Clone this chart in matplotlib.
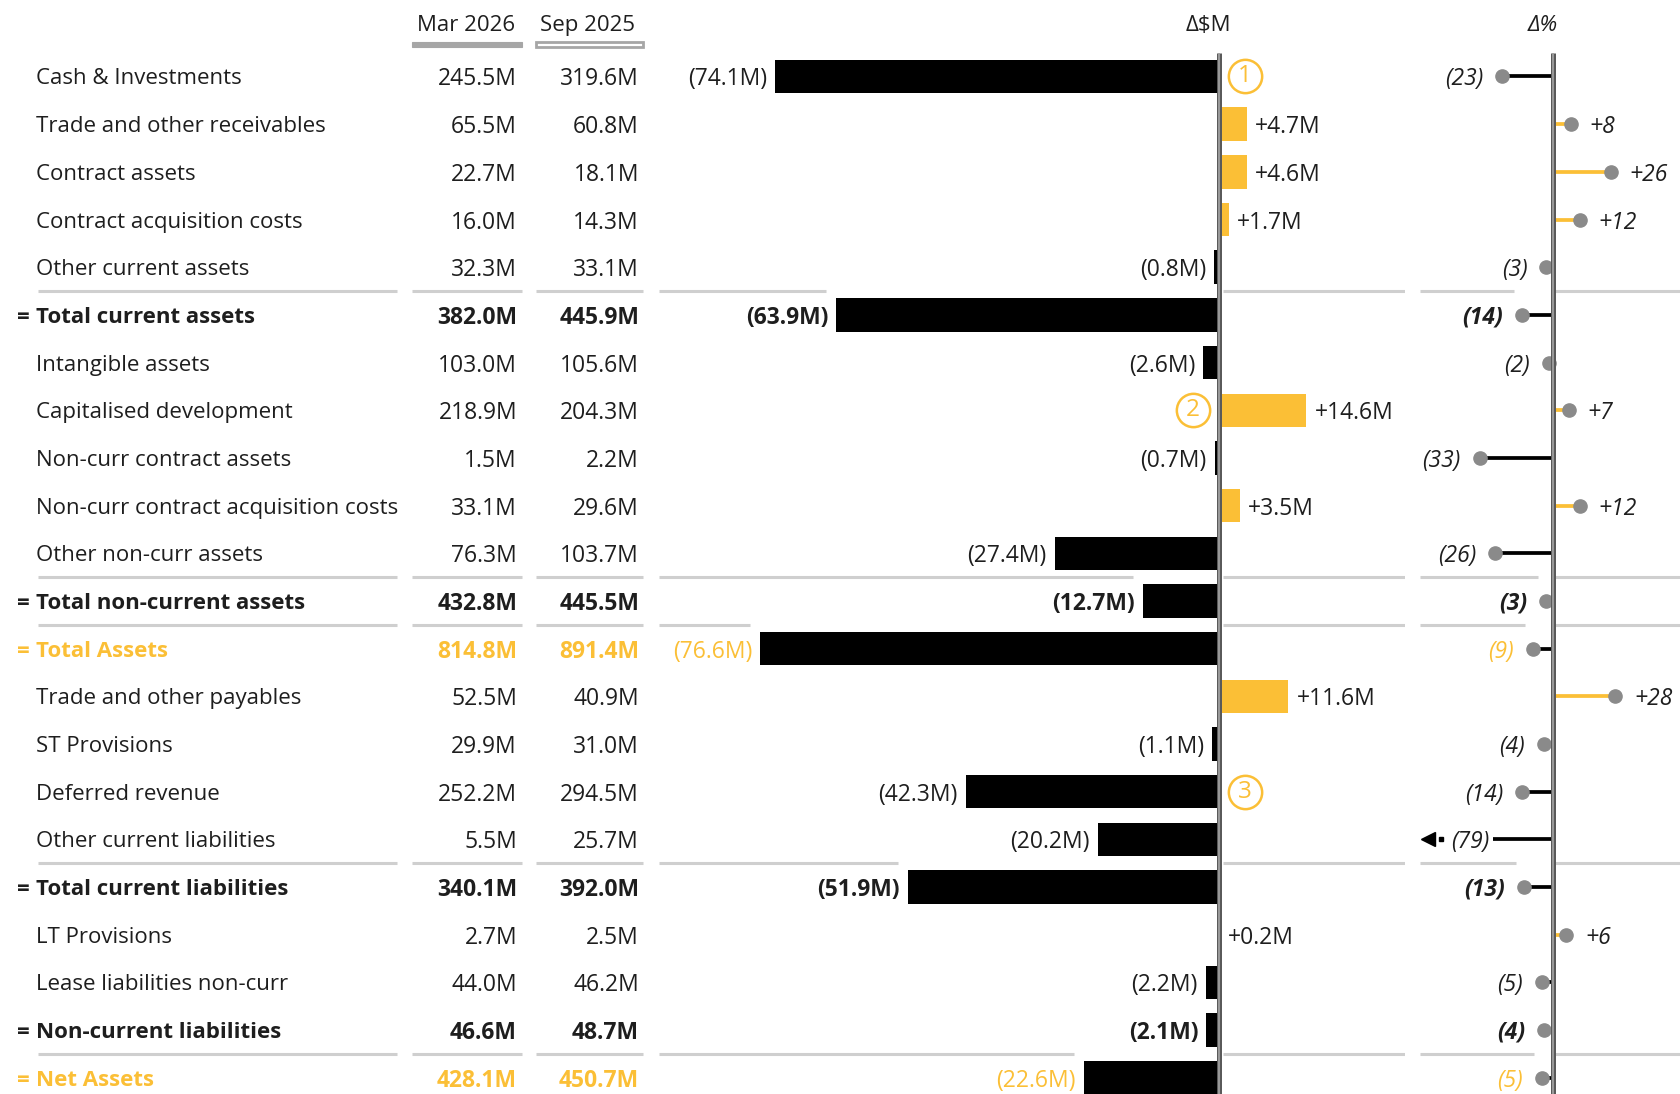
import matplotlib
matplotlib.use("Agg")
import matplotlib.pyplot as plt
from matplotlib.patches import Rectangle
from matplotlib.transforms import offset_copy

plt.rcParams["font.family"] = ["Open Sans", "DejaVu Sans"]

# ---- data -------------------------------------------------------------
categories = [
    "Cash & Investments", "Trade and other receivables", "Contract assets",
    "Contract acquisition costs", "Other current assets", "Total current assets",
    "Intangible assets", "Capitalised development", "Non-curr contract assets",
    "Non-curr contract acquisition costs", "Other non-curr assets",
    "Total non-current assets", "Total Assets", "Trade and other payables",
    "ST Provisions", "Deferred revenue", "Other current liabilities",
    "Total current liabilities", "LT Provisions", "Lease liabilities non-curr",
    "Non-current liabilities", "Net Assets",
]
row_kind = [
    "item", "item", "item", "item", "item", "total",
    "item", "item", "item", "item", "item", "total",
    "grand", "item", "item", "item", "item", "total",
    "item", "item", "total", "grand",
]
mar_2026 = [245.5, 65.5, 22.7, 16.0, 32.3, 382.0, 103.0, 218.9, 1.5, 33.1, 76.3,
            432.8, 814.8, 52.5, 29.9, 252.2, 5.5, 340.1, 2.7, 44.0, 46.6, 428.1]
sep_2025 = [319.6, 60.8, 18.1, 14.3, 33.1, 445.9, 105.6, 204.3, 2.2, 29.6, 103.7,
            445.5, 891.4, 40.9, 31.0, 294.5, 25.7, 392.0, 2.5, 46.2, 48.7, 450.7]
delta_musd = [-74.1, 4.7, 4.6, 1.7, -0.8, -63.9, -2.6, 14.6, -0.7, 3.5, -27.4,
              -12.7, -76.6, 11.6, -1.1, -42.3, -20.2, -51.9, 0.2, -2.2, -2.1, -22.6]
delta_pct = [-23, 8, 26, 12, -3, -14, -2, 7, -33, 12, -26,
             -3, -9, 28, -4, -14, -79, -13, 6, -5, -4, -5]
column_headers = ["Mar 2026", "Sep 2025", "Δ$M", "Δ%"]
callouts = {0: "1", 7: "2", 15: "3"}
separators_above = [5, 11, 12, 17, 21]

# ---- style ------------------------------------------------------------
W, H = 1680, 1094
TXT = "#1e1e1e"
GOLD = "#FBBF36"
NEG = "#000000"
GRID = "#cfcfcf"
DOT = "#8a8a8a"
FS = 16        # row labels and headers
FS_NUM = 16.5  # numbers

n = len(categories)
row_px = 47.67
first_row_px = 76.5
y_top = -first_row_px / row_px
y_bot = (n - 1) + (H - (first_row_px + (n - 1) * row_px)) / row_px

fig = plt.figure(figsize=(W / 100, H / 100), dpi=100)

# table area in pixel-wide x coordinates
ax_t = fig.add_axes([0, 0, 1, 1])
ax_t.set_xlim(0, W)
ax_t.set_ylim(y_bot, y_top)
ax_t.axis("off")

# delta $M panel
d_left, d_axis, d_right = 659, 1219, 1405
px_per_m = 5.99
ax_d = fig.add_axes([d_left / W, 0, (d_right - d_left) / W, 1])
ax_d.set_xlim(-(d_axis - d_left) / px_per_m, (d_right - d_axis) / px_per_m)
ax_d.set_ylim(y_bot, y_top)
ax_d.axis("off")

# delta % panel
p_left, p_axis, p_right = 1420, 1553, 1680
px_per_pct = 2.22
ax_p = fig.add_axes([p_left / W, 0, (p_right - p_left) / W, 1])
ax_p.set_xlim(-(p_axis - p_left) / px_per_pct, (p_right - p_axis) / px_per_pct)
ax_p.set_ylim(y_bot, y_top)
ax_p.axis("off")

VA = "center_baseline"


def color_of(kind):
    return GOLD if kind == "grand" else TXT


def weight_of(kind):
    return "bold" if kind in ("total", "grand") else "normal"


def fmt_m(v):
    return f"+{v:.1f}M" if v >= 0 else f"({-v:.1f}M)"


def fmt_p(v):
    return f"+{v:d}" if v >= 0 else f"({-v:d})"


# ---- headers ----------------------------------------------------------
hdr_y = -1.12
ax_t.text(466, hdr_y, column_headers[0], ha="center", va=VA, fontsize=FS, color=TXT)
ax_t.text(587, hdr_y, column_headers[1], ha="center", va=VA, fontsize=FS, color=TXT)
ax_t.text(1208, hdr_y, column_headers[2], ha="center", va=VA, fontsize=FS, color=TXT)
ax_t.text(1543, hdr_y, column_headers[3], ha="center", va=VA, fontsize=FS,
          color=TXT, style="italic")
ax_t.add_patch(Rectangle((412, -0.72), 110, 0.11, fc="#a6a6a6", ec="#a6a6a6", lw=0.8))
ax_t.add_patch(Rectangle((536, -0.72), 107, 0.11, fc="white", ec="#a6a6a6", lw=2.0))

# ---- table columns ----------------------------------------------------
for i, (name, kind) in enumerate(zip(categories, row_kind)):
    c, w = color_of(kind), weight_of(kind)
    if kind != "item":
        ax_t.text(17, i, "=", ha="left", va=VA, fontsize=FS, color=c, fontweight=w)
    ax_t.text(36, i, name, ha="left", va=VA, fontsize=FS, color=c, fontweight=w)
    ax_t.text(517, i, f"{mar_2026[i]:.1f}M", ha="right", va=VA, fontsize=FS_NUM,
              color=c, fontweight=w)
    ax_t.text(639, i, f"{sep_2025[i]:.1f}M", ha="right", va=VA, fontsize=FS_NUM,
              color=c, fontweight=w)

# separator rules above subtotal rows
for r in separators_above:
    ys = r - 0.5
    for x0, x1 in [(38, 397), (412, 522), (536, 643)]:
        ax_t.plot([x0, x1], [ys, ys], color=GRID, lw=2.2, solid_capstyle="butt")
    lo_d, hi_d = ax_d.get_xlim()
    gap_d = 10 / px_per_m
    ax_d.plot([lo_d, min(0, delta_musd[r]) - gap_d], [ys, ys], color=GRID, lw=2.2,
              solid_capstyle="butt")
    ax_d.plot([0.6, hi_d], [ys, ys], color=GRID, lw=2.2, solid_capstyle="butt")
    lo_p, hi_p = ax_p.get_xlim()
    gap_p = 8 / px_per_pct
    ax_p.plot([lo_p, min(0, delta_pct[r]) - gap_p], [ys, ys], color=GRID, lw=2.2,
              solid_capstyle="butt")
    ax_p.plot([0.6, hi_p], [ys, ys], color=GRID, lw=2.2, solid_capstyle="butt")

# ---- delta $M bars ----------------------------------------------------
bar_colors = [GOLD if v >= 0 else NEG for v in delta_musd]
ax_d.barh(range(n), delta_musd, height=0.7, color=bar_colors, zorder=2)
lab_off = 8 * 0.72
for i, v in enumerate(delta_musd):
    kind = row_kind[i]
    ax_d.annotate(fmt_m(v), xy=(v, i), xytext=(lab_off if v >= 0 else -lab_off, 0),
                  textcoords="offset points", ha="left" if v >= 0 else "right",
                  va=VA, fontsize=FS_NUM, color=color_of(kind),
                  fontweight="bold" if kind == "total" else "normal")

for r, num in callouts.items():
    side = 1 if delta_musd[r] < 0 else -1
    tr = offset_copy(ax_d.transData, fig=fig, x=side * 26, y=0, units="dots")
    ax_d.plot(0, r, marker="o", ms=24, mfc="white", mec=GOLD, mew=1.8, transform=tr,
              zorder=5)
    ax_d.text(0, r, num, transform=tr, ha="center", va="center", fontsize=FS + 1.5,
              color=GOLD, zorder=6)

# ---- delta % lollipops ------------------------------------------------
p_lo = ax_p.get_xlim()[0]
clip = p_lo + 2.5
for i, v in enumerate(delta_pct):
    kind = row_kind[i]
    col = GOLD if v >= 0 else NEG
    style = dict(fontsize=FS_NUM, color=color_of(kind), style="italic",
                 fontweight="bold" if kind == "total" else "normal")
    if v < clip:
        # value beyond the panel: truncated stem with an arrow head
        lab_x = p_lo + 0.55 * (0 - p_lo)
        ax_p.plot([0, lab_x], [i, i], color=col, lw=2.7, solid_capstyle="butt", zorder=2)
        ax_p.annotate(fmt_p(v), xy=(lab_x, i), xytext=(-3, 0), textcoords="offset points",
                      ha="right", va=VA, **style)
        ax_p.plot(p_lo + 0.16 * (0 - p_lo), i, marker="s", ms=3.5, color=NEG, zorder=3)
        ax_p.plot(p_lo + 0.06 * (0 - p_lo), i, marker="<", ms=10, color=NEG, zorder=3)
        continue
    ax_p.plot([0, v], [i, i], color=col, lw=2.7, solid_capstyle="butt", zorder=2)
    ax_p.plot(v, i, marker="o", ms=9.5, color=DOT, mec=DOT, zorder=3)
    off = 19 * 0.72
    ax_p.annotate(fmt_p(v), xy=(v, i), xytext=(off if v >= 0 else -off, 0),
                  textcoords="offset points", ha="left" if v >= 0 else "right",
                  va=VA, **style)

# ---- zero axes --------------------------------------------------------
for ax in (ax_d, ax_p):
    ax.plot([0, 0], [-0.5, y_bot], color="#5a5a5a", lw=3.6, solid_capstyle="butt", zorder=4)
    ax.plot([0, 0], [-0.5, y_bot], color="#a0a0a0", lw=1.3, solid_capstyle="butt", zorder=4)

fig.savefig("out.png", dpi=100, facecolor="white")
